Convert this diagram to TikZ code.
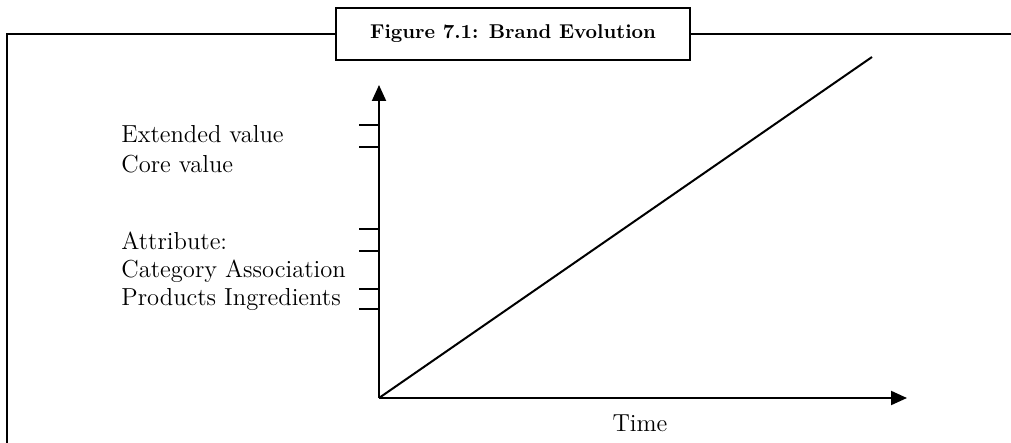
\documentclass[tikz,border=0pt]{standalone}
\usepackage{tikz}
\usetikzlibrary{arrows.meta}

\begin{document}
\begin{tikzpicture}[x=0.5pt,y=-0.5pt]
\tikzset{
  axisline/.style={line width=1pt,-{Triangle[length=8pt,width=7pt]}},
  tickmark/.style={line width=1pt},
  scalelabel/.style={anchor=west,inner sep=0pt,font=\fontsize{12.3}{14}\selectfont},
  titlebox/.style={draw,line width=1pt,fill=white,minimum width=177pt,minimum height=26pt,font=\bfseries\fontsize{10}{12}\selectfont}
}
\useasboundingbox (0,0) rectangle (1011,443);
% frame
\draw[line width=1pt] (7,450) -- (7,34) -- (1015,34);
\node[titlebox] (title) at (513,34) {Figure 7.1: Brand Evolution};
% axes
\coordinate (origin) at (379,398);
\coordinate (ytop) at (379,85);
\coordinate (xend) at (907,398);
\coordinate (lineend) at (872,57);
\draw[axisline] (origin) -- (ytop);
\draw[axisline] (origin) -- (xend);
\draw[line width=1pt] (origin) -- (lineend);
% ticks
\foreach \ty in {125,147,229,251,289,309}
  \draw[tickmark] (359,\ty) -- (379,\ty);
% labels
\node[scalelabel] (extended) at (121,134) {Extended value};
\node[scalelabel] (core) at (121,164) {Core value};
\node[scalelabel] (attribute) at (121,241) {Attribute:};
\node[scalelabel] (category) at (121,271) {Category Association};
\node[scalelabel] (products) at (121,299) {Products Ingredients};
\node[scalelabel,anchor=center] (time) at (640,423) {Time};
\end{tikzpicture}
\end{document}
